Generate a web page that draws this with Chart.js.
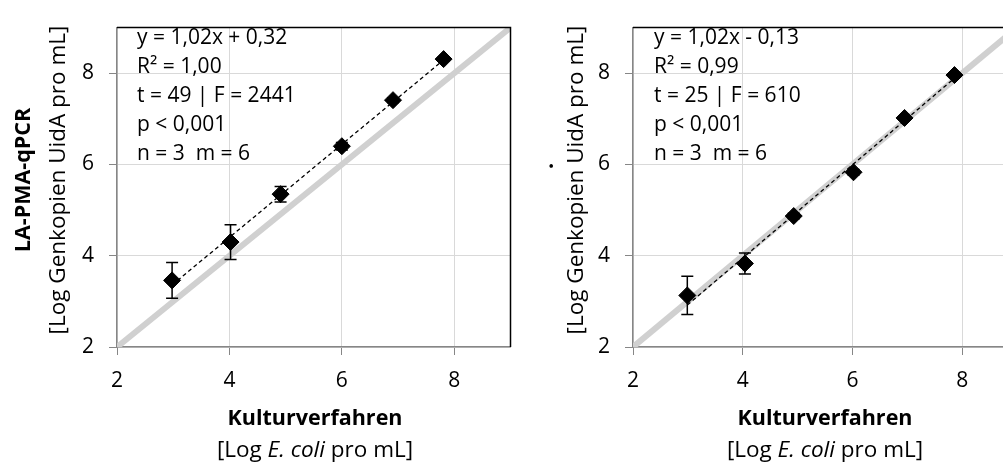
<!DOCTYPE html>
<html>
<head>
<meta charset="utf-8">
<script src="https://cdn.jsdelivr.net/npm/chart.js@4.4.0/dist/chart.umd.min.js"></script>
<style>
  html, body { margin: 0; padding: 0; background: #fff; overflow: hidden; }
  body { width: 1003px; height: 467px; position: relative; font-family: "Open Sans", sans-serif; color: #000; }
  .box { position: absolute; top: 0; width: 520px; height: 467px; }
  .lbl { position: absolute; white-space: nowrap; font-size: 22.5px; line-height: 26px; }
  .lbl b { font-size: 21.5px; }
  .vert { transform: translate(-50%, -50%) rotate(-90deg); }
  .horiz { transform: translate(-50%, -50%); }
  .stats { position: absolute; top: 22px; font-size: 21px; line-height: 29px; white-space: nowrap; }
  b { font-weight: 700; }
</style>
</head>
<body>
<div class="box" style="left:0"><canvas id="chartLeft" width="520" height="467"></canvas></div>
<div class="box" style="left:516px"><canvas id="chartRight" width="520" height="467"></canvas></div>

<!-- left panel texts -->
<div class="lbl vert" style="left:22px; top:180px;"><b>LA-PMA-qPCR</b></div>
<div class="lbl vert" style="left:57px; top:180px;">[Log Genkopien UidA pro mL]</div>
<div class="lbl horiz" style="left:315px; top:417px;"><b>Kulturverfahren</b></div>
<div class="lbl horiz" style="left:315px; top:449px;">[Log <i>E. coli</i> pro mL]</div>
<div class="stats" style="left:137px;">y = 1,02x + 0,32<br>R² = 1,00<br>t = 49 | F = 2441<br>p &lt; 0,001<br>n = 3&nbsp; m = 6</div>

<!-- right panel texts -->
<div class="lbl vert" style="left:545px; top:166px;"><b>.</b></div>
<div class="lbl vert" style="left:575px; top:180px;">[Log Genkopien UidA pro mL]</div>
<div class="lbl horiz" style="left:825px; top:417px;"><b>Kulturverfahren</b></div>
<div class="lbl horiz" style="left:825px; top:449px;">[Log <i>E. coli</i> pro mL]</div>
<div class="stats" style="left:654px;">y = 1,02x - 0,13<br>R² = 0,99<br>t = 25 | F = 610<br>p &lt; 0,001<br>n = 3&nbsp; m = 6</div>

<script>
// axis range (same on both axes)
const axisMin = 2;
const axisMax = 9;
const identity = [2, 9];

// left panel: LA-PMA-qPCR vs culture
const kultLeft = [2.98, 4.02, 4.91, 6.00, 6.91, 7.81];
const qpcrLeft = [3.46, 4.30, 5.35, 6.40, 7.41, 8.31];
const errLeft = [0.39, 0.38, 0.17, 0.08, 0.05, 0.04];
const trendXLeft = [2.98, 7.81];
const trendYLeft = [3.36, 8.29];

// right panel
const kultRight = [2.99, 4.04, 4.93, 6.02, 6.95, 7.86];
const qpcrRight = [3.13, 3.83, 4.87, 5.83, 7.02, 7.96];
const errRight = [0.42, 0.23, 0.06, 0.06, 0.05, 0.03];
const trendXRight = [2.99, 7.86];
const trendYRight = [2.92, 7.89];

const errorBars = {
  id: 'errorBars',
  afterDatasetDraw(chart, args, opts) {
    if (args.index !== 1) return;
    const meta = chart.getDatasetMeta(2);
    const yScale = chart.scales.y;
    const ctx = chart.ctx;
    ctx.save();
    ctx.strokeStyle = '#000';
    ctx.lineWidth = 1.5;
    meta.data.forEach(function(pt, i) {
      const v = chart.data.datasets[2].data[i].y;
      const top = yScale.getPixelForValue(v + opts.errors[i]);
      const bot = yScale.getPixelForValue(v - opts.errors[i]);
      ctx.beginPath();
      ctx.moveTo(pt.x, top); ctx.lineTo(pt.x, bot);
      ctx.moveTo(pt.x - 6, top); ctx.lineTo(pt.x + 6, top);
      ctx.moveTo(pt.x - 6, bot); ctx.lineTo(pt.x + 6, bot);
      ctx.stroke();
    });
    ctx.restore();
  }
};

const frame = {
  id: 'frame',
  afterDraw(chart, args, opts) {
    const a = chart.chartArea;
    const ctx = chart.ctx;
    ctx.save();
    ctx.strokeStyle = '#000';
    ctx.lineWidth = 1.5;
    ctx.beginPath();
    ctx.moveTo(a.left, a.top);
    ctx.lineTo(a.right, a.top);
    if (opts.right) ctx.lineTo(a.right, a.bottom);
    ctx.stroke();
    ctx.restore();
  }
};

function makeChart(id, xs, ys, errs, tx, ty, padRight, rightBorder) {
  const scaleOpts = {
    type: 'linear',
    min: axisMin,
    max: axisMax,
    grid: { color: '#d9d9d9', lineWidth: 1, tickColor: '#868686', tickLength: 8 },
    border: { color: '#868686', width: 1.5 },
    ticks: { stepSize: 2, includeBounds: false, color: '#000', font: { family: 'Open Sans', size: 21 } }
  };
  return new Chart(document.getElementById(id), {
    type: 'scatter',
    data: {
      datasets: [
        {
          type: 'line',
          data: identity.map(function(v) { return { x: v, y: v }; }),
          borderColor: '#d0d0d0',
          borderWidth: 6,
          pointRadius: 0,
          clip: 0,
          order: 3
        },
        {
          type: 'line',
          data: tx.map(function(v, i) { return { x: v, y: ty[i] }; }),
          borderColor: '#000',
          borderWidth: 1.3,
          borderDash: [4, 3],
          pointRadius: 0,
          order: 2
        },
        {
          data: xs.map(function(v, i) { return { x: v, y: ys[i] }; }),
          pointStyle: 'rectRot',
          pointRadius: 8.5,
          backgroundColor: '#000',
          borderColor: '#000',
          borderWidth: 1,
          order: 1
        }
      ]
    },
    options: {
      responsive: false,
      animation: false,
      devicePixelRatio: 1,
      layout: { padding: { top: 12, right: padRight, bottom: 0, left: 0 } },
      plugins: {
        legend: { display: false },
        tooltip: { enabled: false },
        errorBars: { errors: errs },
        frame: { right: rightBorder }
      },
      scales: {
        x: Object.assign({}, scaleOpts, {
          position: 'bottom',
          ticks: Object.assign({}, scaleOpts.ticks, { padding: 13 }),
          afterFit: function(s) { s.height = 120; }
        }),
        y: Object.assign({}, scaleOpts, {
          position: 'left',
          ticks: Object.assign({}, scaleOpts.ticks, { padding: 15 }),
          afterFit: function(s) { s.width = 117; }
        })
      }
    },
    plugins: [errorBars, frame]
  });
}

makeChart('chartLeft', kultLeft, qpcrLeft, errLeft, trendXLeft, trendYLeft, 5, true);
makeChart('chartRight', kultRight, qpcrRight, errRight, trendXRight, trendYRight, 19, false);
</script>
</body>
</html>
